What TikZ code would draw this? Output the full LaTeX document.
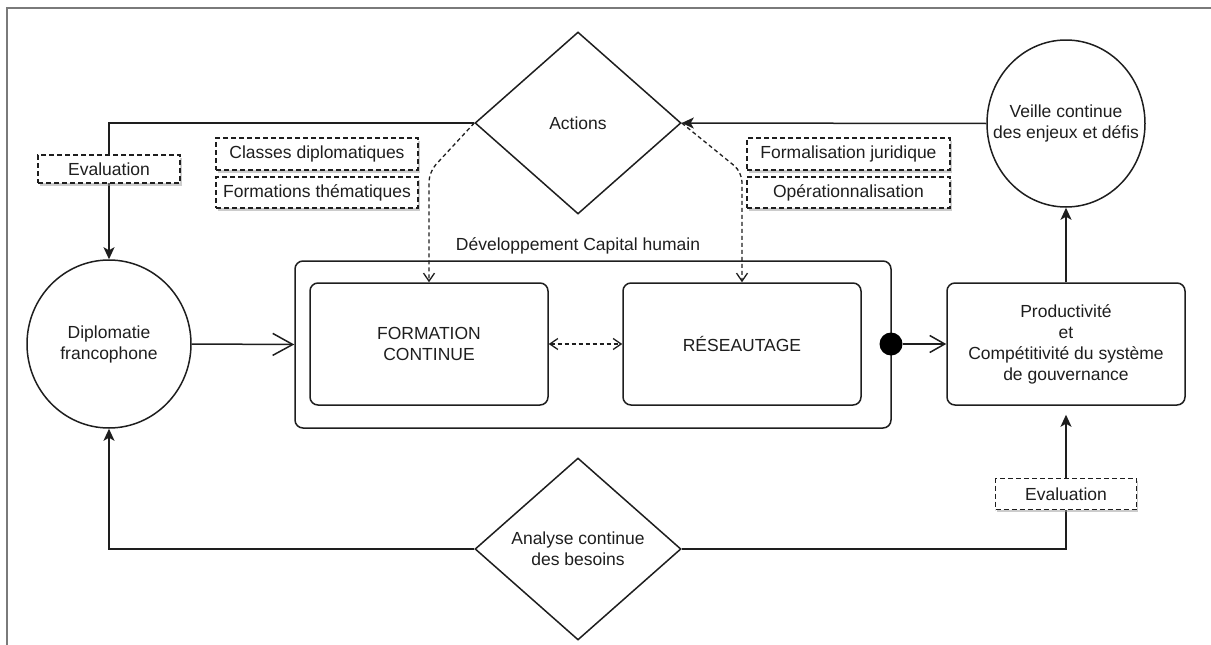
\documentclass[tikz,border=0pt]{standalone}
\usepackage{fontspec}
\setmainfont{Liberation Sans}
\usetikzlibrary{shapes.geometric,arrows.meta,shadows,backgrounds}
\definecolor{ink}{HTML}{1E1E1E}
\definecolor{framegray}{HTML}{7A7A7A}
\begin{document}
\begin{tikzpicture}[x=1pt,y=-1pt,
  every node/.style={font=\fontsize{17.5}{21}\selectfont, text=ink, inner sep=0pt},
  rbox/.style={draw=ink, line width=1.5pt, rounded corners=8pt, align=center},
  diam/.style={draw=ink, line width=1.5pt, diamond, minimum width=206pt, minimum height=182pt},
  circ/.style={draw=ink, line width=1.5pt, ellipse},
  txt/.style={align=center},
  tag/.style={draw=ink, line width=1.3pt, dash pattern=on 5pt off 3pt, fill=white,
    drop shadow={shadow xshift=1.5pt, shadow yshift=-2.5pt, opacity=0.5, fill=gray!80},
    align=center},
  flow/.style={draw=ink, line width=1.5pt, -{Stealth[length=12pt,width=11pt,inset=3pt]}},
  openbig/.style={draw=ink, line width=1.5pt, -{Straight Barb[length=20pt,width=22pt]}},
  opensmall/.style={draw=ink, line width=1.5pt, -{Straight Barb[length=15pt,width=17pt]}},
  dashconn/.style={draw=ink, line width=1.3pt, dash pattern=on 4pt off 3pt, rounded corners=10pt},
  vtip/.style={-{Straight Barb[length=8pt,width=11pt]}}
]
\useasboundingbox (0,0) rectangle (1211,645);
\draw[framegray, line width=2pt] (7,645) -- (7,8) -- (1211,8);

% main shapes
\node[diam] (act) at (578,123) {};
\node[txt] (acttxt) at (act.center) {Actions};
\node[diam] (ana) at (578,549) {};
\node[txt] (anatxt) at (ana.center) {Analyse continue\\des besoins};
\node[circ, minimum width=164pt, minimum height=168pt] (dip) at (109,344) {};
\node[txt] (diptxt) at (dip.center) {Diplomatie\\francophone};
\node[circ, minimum width=158pt, minimum height=167pt] (veil) at (1066,123.5) {};
\node[txt] (veiltxt) at (veil.center) {Veille continue\\des enjeux et défis};

\node[rbox, minimum width=596pt, minimum height=167pt] (dev) at (593,344.5) {};
\node (devtitle) at (578,246) {Développement Capital humain};
\node[rbox, minimum width=238pt, minimum height=122pt] (fc) at (429,344) {FORMATION\\CONTINUE};
\node[rbox, minimum width=238pt, minimum height=122pt] (res) at (742,344) {RÉSEAUTAGE};
\node[rbox, minimum width=238pt, minimum height=122pt] (prod) at (1066,344) {Productivité\\et\\Compétitivité du système\\de gouvernance};
\node[circle, fill=black, minimum size=23pt] (dot) at (891,344) {};

% dashed tags
\node[tag, minimum width=142pt, minimum height=28pt] (ev1) at (109,169) {Evaluation};
\node[tag, minimum width=141pt, minimum height=31pt] (ev2) at (1066,494) {Evaluation};
\node[tag, minimum width=202pt, minimum height=32pt] (cd) at (317,154) {Classes diplomatiques};
\node[tag, minimum width=202pt, minimum height=31pt] (ft) at (317,192.5) {Formations thématiques};
\node[tag, minimum width=203pt, minimum height=32pt] (fj) at (848.5,154) {Formalisation juridique};
\node[tag, minimum width=203pt, minimum height=31pt] (op) at (848.5,192.5) {Opérationnalisation};

\begin{scope}[on background layer]
\draw[flow] (act.west) -| (dip.north);
\draw[flow] (veil.west) -- (act.east);
\draw[flow] (prod.north) -- (veil.south);
\draw[flow] (ana.west) -| (dip.south);
\draw[flow, shorten >=9pt] (ana.east) -| (prod.south);
\draw[openbig] (dip.east) -- (dev.west);
\draw[opensmall] (dot.east) -- (prod.west);
\draw[dashconn, {Straight Barb[length=8pt,width=11pt]}-{Straight Barb[length=8pt,width=11pt]}] (fc.east) -- (res.west);
\draw[dashconn, vtip] (act.west) -- (fc.north |- 0,172) -- (fc.north);
\draw[dashconn, vtip] (act.east) -- (res.north |- 0,172) -- (res.north);
\end{scope}
\end{tikzpicture}
\end{document}
